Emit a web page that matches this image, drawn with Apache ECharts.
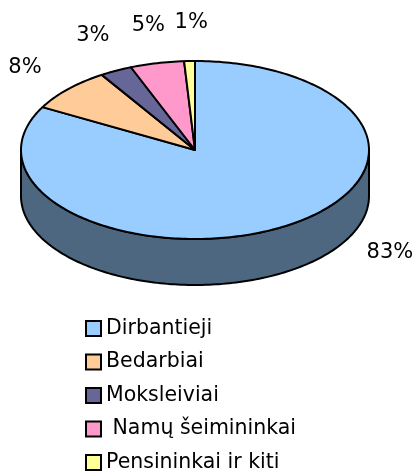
<!DOCTYPE html>
<html>
<head>
<meta charset="utf-8">
<script src="https://cdn.jsdelivr.net/npm/echarts@6/dist/echarts.min.js"></script>
<style>
  html, body { margin: 0; padding: 0; background: #fff; }
  #chart { width: 413px; height: 472px; }
</style>
</head>
<body>
<div id="chart"></div>
<script>
// data
var names = ['Dirbantieji', 'Bedarbiai', 'Moksleiviai', ' Namų šeimininkai', 'Pensininkai ir kiti'];
var shares = [83, 8, 3, 5, 1];

// look
var colors = ['#99CCFF', '#FFCC99', '#666699', '#FF99CC', '#FFFF99'];
var sideColors = ['#4d6781', '#806650', '#33334d', '#804d66', '#80804d'];
var labelShift = [[86, -8], [-14, 6], [-5, 0], [0, 1], [3, 1]];

// ellipse of the top face
var CX = 195, CY = 150, RX = 174, RY = 89, DEPTH = 46;

var total = shares.reduce(function (a, b) { return a + b; }, 0);

function pt(t, dy) {
    return [CX + RX * Math.sin(t), CY - RY * Math.cos(t) + (dy || 0)];
}

function arcPts(a, b, dy) {
    var out = [];
    var n = Math.max(2, Math.ceil(Math.abs(b - a) / 0.02));
    for (var k = 0; k <= n; k++) {
        out.push(pt(a + (b - a) * k / n, dy));
    }
    return out;
}

function renderSlice(params, api) {
    var i = params.seriesIndex;
    var before = 0;
    for (var j = 0; j < i; j++) before += shares[j];
    var start = before / total * Math.PI * 2;
    var end = (before + api.value(0)) / total * Math.PI * 2;
    var children = [];

    // front wall, only the part facing the viewer
    var a = Math.max(start, Math.PI / 2), b = Math.min(end, Math.PI * 1.5);
    if (a < b) {
        var wall = arcPts(a, b, 0).concat(arcPts(b, a, DEPTH));
        children.push({
            type: 'polygon',
            shape: { points: wall },
            style: { fill: sideColors[i], stroke: '#000', lineWidth: 2, lineJoin: 'round' }
        });
    }

    // top face
    var top = [[CX, CY]].concat(arcPts(start, end, 0));
    children.push({
        type: 'polygon',
        shape: { points: top },
        style: { fill: colors[i], stroke: '#000', lineWidth: 2, lineJoin: 'round' }
    });

    // percent label
    var mid = (start + end) / 2;
    children.push({
        type: 'text',
        x: CX + (RX + 40) * Math.sin(mid) + labelShift[i][0],
        y: CY - (RY + 40) * Math.cos(mid) + labelShift[i][1],
        style: {
            text: Math.round(api.value(0) / total * 100) + '%',
            fill: '#000',
            font: '21px "DejaVu Sans"',
            align: 'center',
            verticalAlign: 'middle'
        }
    });

    return { type: 'group', children: children };
}

var chart = echarts.init(document.getElementById('chart'));

var series = names.map(function (name, i) {
    return {
        name: name,
        type: 'custom',
        coordinateSystem: 'none',
        renderItem: renderSlice,
        itemStyle: { color: colors[i] },
        data: [[shares[i]]]
    };
});

chart.setOption({
    animation: false,
    legend: {
        orient: 'vertical',
        left: 85,
        top: 318,
        height: 240,
        padding: 0,
        icon: 'rect',
        itemWidth: 15,
        itemHeight: 15,
        itemGap: 12.5,
        selectedMode: false,
        itemStyle: { borderColor: '#000', borderWidth: 2 },
        textStyle: { color: '#000', fontSize: 20.5, fontFamily: 'DejaVu Sans', lineHeight: 21 },
        data: names
    },
    series: series
});
</script>
</body>
</html>
